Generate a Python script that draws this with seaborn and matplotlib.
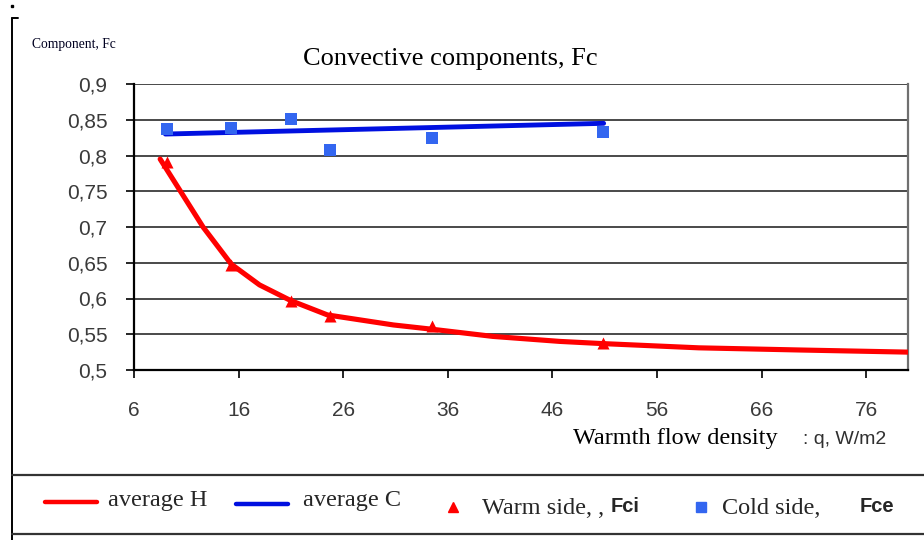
import matplotlib
matplotlib.use('Agg')
import matplotlib.pyplot as plt
import seaborn as sns
from matplotlib.lines import Line2D
from matplotlib.ticker import FuncFormatter

# Datos
q_puntos = [9.2, 15.3, 21.0, 24.7, 34.5, 50.8]
lado_calido = [0.791, 0.647, 0.596, 0.575, 0.561, 0.538]   # Fci
lado_frio = [0.837, 0.839, 0.851, 0.808, 0.825, 0.833]     # Fce

q_prom_h = [8.5, 12.6, 15.3, 18.0, 21.0, 24.5, 30.8, 34.5, 40.3, 46.7, 50.7, 60.0, 69.6, 80.0]
prom_h = [0.795, 0.700, 0.648, 0.619, 0.597, 0.577, 0.563, 0.557, 0.547, 0.540, 0.537, 0.531, 0.528, 0.525]

q_prom_c = [9.0, 50.9]
prom_c = [0.830, 0.845]

x_ticks = [6, 16, 26, 36, 46, 56, 66, 76]
y_ticks = [0.5, 0.55, 0.6, 0.65, 0.7, 0.75, 0.8, 0.85, 0.9]

SERIF = 'Liberation Serif'
SANS = 'Liberation Sans'
ROJO = '#FF0000'
AZUL = '#0010E0'
AZUL_CLARO = '#3366F0'

sns.set_theme(style='white')
plt.rcParams['font.family'] = [SANS, 'DejaVu Sans']

W, H = 924, 540
fig = plt.figure(figsize=(W / 100, H / 100), dpi=100)
ax = fig.add_axes([134 / W, 1 - 370 / H, (908 - 134) / W, (370 - 84) / H])

def fx(px):
    return px / W

def fy(py):
    return 1 - py / H

# grid
for v in y_ticks:
    ax.axhline(v, color='#3a3a3a', lw=1.3, zorder=0)

sns.lineplot(x=q_prom_h, y=prom_h, ax=ax, color=ROJO, lw=3.7, zorder=3)
sns.lineplot(x=q_prom_c, y=prom_c, ax=ax, color=AZUL, lw=3.5, zorder=3)
sns.scatterplot(x=q_puntos, y=lado_calido, ax=ax, color=ROJO, marker='^', s=75,
                linewidth=0, zorder=4)
sns.scatterplot(x=q_puntos, y=lado_frio, ax=ax, color=AZUL_CLARO, marker='s', s=85,
                linewidth=0, zorder=4)

ax.set_xlim(6, 80)
ax.set_ylim(0.5, 0.9)
ax.set_xticks(x_ticks)
ax.set_yticks(y_ticks)
ax.yaxis.set_major_formatter(FuncFormatter(lambda v, p: f'{v:g}'.replace('.', ',')))
ax.tick_params(axis='both', which='both', length=6, width=1.2, color='black',
               labelsize=15, labelcolor='#3a3a3a', direction='out')
ax.tick_params(axis='y', pad=13, left=True)
ax.tick_params(axis='x', pad=16, bottom=True)
for lab in ax.get_xticklabels() + ax.get_yticklabels():
    lab.set_fontfamily(SANS)
ax.set_xlabel('')
ax.set_ylabel('')
ax.spines['left'].set_color('black')
ax.spines['left'].set_linewidth(1.6)
ax.spines['bottom'].set_color('black')
ax.spines['bottom'].set_linewidth(1.6)
ax.spines['right'].set_color('#707070')
ax.spines['right'].set_linewidth(1.6)
ax.spines['top'].set_visible(False)

# textos
fig.text(fx(450), fy(65), 'Convective components, Fc', family=SERIF, fontsize=19,
         ha='center', va='baseline', color='black')
fig.text(fx(32), fy(48), 'Component, Fc', family=SERIF, fontsize=9.8,
         ha='left', va='baseline', color='#000020')
fig.text(fx(573), fy(444), 'Warmth flow density', family=SERIF, fontsize=17.5,
         ha='left', va='baseline', color='black')
fig.text(fx(803), fy(444), ': q, W/m2', family=SANS, fontsize=14,
         ha='left', va='baseline', color='#303030')

# marco exterior
fig.add_artist(Line2D([fx(12), fx(12)], [fy(18), fy(540)], color='black', lw=1.4))
fig.add_artist(Line2D([fx(12), fx(18)], [fy(18), fy(18)], color='black', lw=1.4))
fig.add_artist(Line2D([fx(12)], [fy(6)], color='black', marker='s', ms=2, lw=0))
fig.add_artist(Line2D([fx(12), fx(924)], [fy(475), fy(475)], color='#333333', lw=1.6))
fig.add_artist(Line2D([fx(12), fx(924)], [fy(534), fy(534)], color='#333333', lw=1.6))

# leyenda
fig.add_artist(Line2D([fx(45), fx(97)], [fy(502), fy(502)], color=ROJO, lw=3.2))
fig.text(fx(108), fy(506), 'average H', family=SERIF, fontsize=17.5, va='baseline')
fig.add_artist(Line2D([fx(236), fx(288)], [fy(504), fy(504)], color=AZUL, lw=3.2))
fig.text(fx(303), fy(506), 'average C', family=SERIF, fontsize=17.5, va='baseline')
fig.add_artist(Line2D([fx(453)], [fy(507)], color=ROJO, marker='^', ms=7.5, lw=0))
fig.text(fx(482), fy(514), 'Warm side, ,', family=SERIF, fontsize=17.5, va='baseline')
fig.text(fx(611), fy(512), 'Fci', family=SANS, fontsize=14.5, fontweight='bold',
         va='baseline')
fig.add_artist(Line2D([fx(701)], [fy(507)], color=AZUL_CLARO, marker='s', ms=7.5, lw=0))
fig.text(fx(722), fy(514), 'Cold side,', family=SERIF, fontsize=17.5, va='baseline')
fig.text(fx(860), fy(512), 'Fce', family=SANS, fontsize=14.5, fontweight='bold',
         va='baseline')

fig.savefig('out.png', dpi=100)
